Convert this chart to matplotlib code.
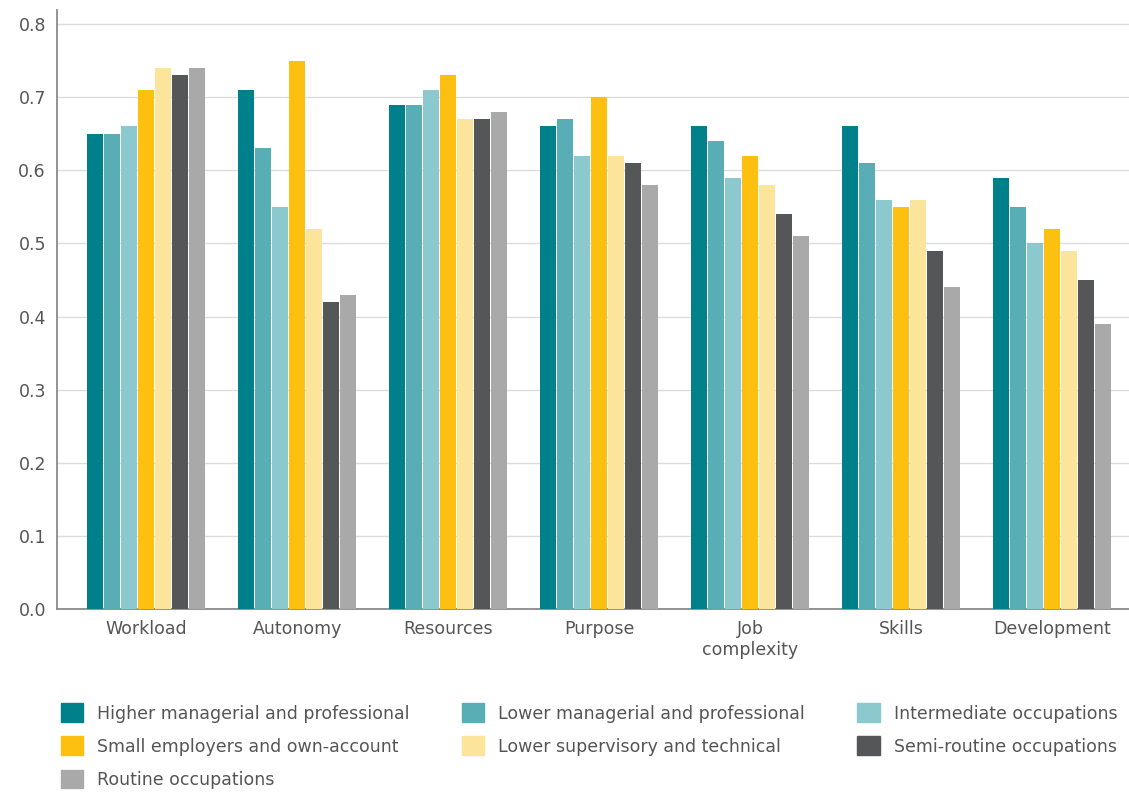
import numpy as np
import matplotlib.pyplot as plt
from matplotlib.patches import Patch

categories = ['Workload', 'Autonomy', 'Resources', 'Purpose', 'Job\ncomplexity', 'Skills', 'Development']
groups = ['Higher managerial and professional', 'Lower managerial and professional',
          'Intermediate occupations', 'Small employers and own-account',
          'Lower supervisory and technical', 'Semi-routine occupations', 'Routine occupations']

higher_man = [0.65, 0.71, 0.69, 0.66, 0.66, 0.66, 0.59]
lower_man = [0.65, 0.63, 0.69, 0.67, 0.64, 0.61, 0.55]
intermediate = [0.66, 0.55, 0.71, 0.62, 0.59, 0.56, 0.50]
small_emp = [0.71, 0.75, 0.73, 0.70, 0.62, 0.55, 0.52]
lower_sup = [0.74, 0.52, 0.67, 0.62, 0.58, 0.56, 0.49]
semi_routine = [0.73, 0.42, 0.67, 0.61, 0.54, 0.49, 0.45]
routine = [0.74, 0.43, 0.68, 0.58, 0.51, 0.44, 0.39]

series = [higher_man, lower_man, intermediate, small_emp, lower_sup, semi_routine, routine]
colors = ['#00808a', '#58aeb4', '#8cc9cf', '#fdc010', '#fde49b', '#545658', '#a9a9a9']

fig = plt.figure(figsize=(11.29, 7.94), dpi=100)
ax = fig.add_axes([0.0505, 0.233, 0.9495, 0.755])

x = np.arange(len(categories))
w = 0.113
for i, vals in enumerate(series):
    ax.bar(x + (i - 3) * w, vals, width=w * 0.92, color=colors[i], zorder=3)

ax.set_ylim(0, 0.82)
ax.set_xlim(-0.59, 6.51)
ax.set_yticks(np.arange(0, 0.81, 0.1))
ax.set_yticklabels(['{:.1f}'.format(v) for v in np.arange(0, 0.81, 0.1)])
ax.set_xticks(x)
ax.set_xticklabels(categories)
ax.grid(axis='y', color='#dcdcdc', lw=1, zorder=0)
ax.tick_params(length=0, labelsize=12.5, labelcolor='#555555', pad=8)
for s in ['top', 'right']:
    ax.spines[s].set_visible(False)
for s in ['left', 'bottom']:
    ax.spines[s].set_color('#8a8a8a')
    ax.spines[s].set_linewidth(1.3)

# legend order so the columns read row by row
order = [0, 3, 6, 1, 4, 2, 5]
handles = [Patch(color=colors[i], label=groups[i]) for i in order]
fig.legend(handles=handles, loc='upper left', bbox_to_anchor=(0.04, 0.134), ncol=3,
           frameon=False, fontsize=12.5, labelcolor='#555555', handlelength=1.3,
           handleheight=1.3, handletextpad=0.8, columnspacing=3.0, labelspacing=0.8)

plt.savefig('out.png', dpi=100)
